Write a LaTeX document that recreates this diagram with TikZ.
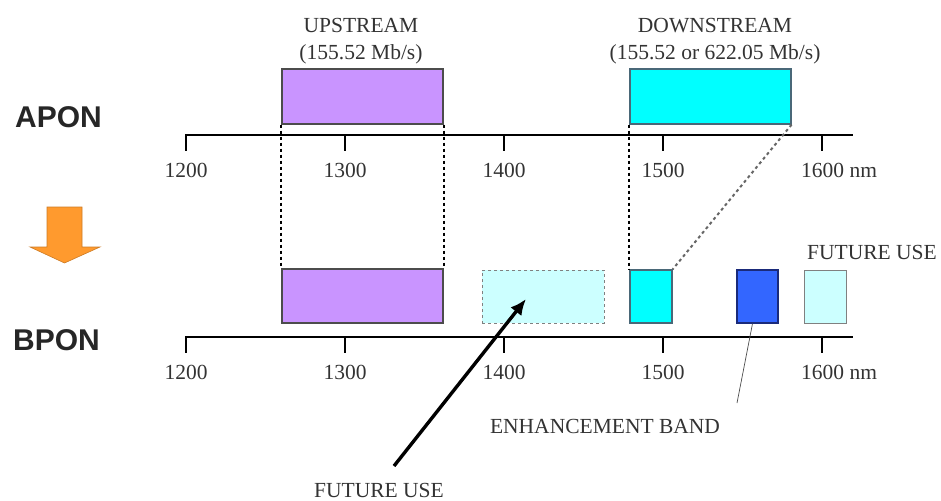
\documentclass[tikz,border=0pt]{standalone}
\usepackage{fontspec}
\setmainfont{Liberation Serif}
\newfontfamily\labelfont{Liberation Sans}
\usetikzlibrary{arrows.meta,calc}
\definecolor{bandpurple}{HTML}{C994FF}
\definecolor{bandcyan}{HTML}{00FFFF}
\definecolor{bandlight}{HTML}{CCFFFF}
\definecolor{bandblue}{HTML}{3366FF}
\definecolor{bandnavy}{HTML}{1A2A7A}
\definecolor{arroworange}{HTML}{FF9A2E}
\definecolor{txtgray}{HTML}{333333}
\begin{document}
\begin{tikzpicture}[x=1pt,y=-1pt,
  txt/.style={font=\fontsize{21.5}{24}\selectfont, text=txtgray, inner sep=0pt},
  big/.style={font=\labelfont\bfseries\fontsize{30}{32}\selectfont, text=black!85, inner sep=0pt},
  axisline/.style={line width=2.6pt, line cap=rect},
  band/.style={draw=black!70, line width=1.2pt, inner sep=0pt},
  guide/.style={line width=2pt, dash pattern=on 3pt off 3pt},
]
\useasboundingbox (0,0) rectangle (941,500);

% titles
\node[txt, anchor=base] (upt) at (361,33) {UPSTREAM};
\node[txt, anchor=base] (upr) at (361,60) {(155.52 Mb/s)};
\node[txt, anchor=base] (dnt) at (715,33) {DOWNSTREAM};
\node[txt, anchor=base] (dnr) at (715,60) {(155.52 or 622.05 Mb/s)};

% side labels
\node[big, anchor=base west] (apon) at (15,127) {APON};
\node[big, anchor=base west] (bpon) at (13,350) {BPON};

% orange arrow
\fill[arroworange, draw=arroworange!80!black, line width=0.6pt]
  (47,207) -- (82,207) -- (82,247) -- (100,247) -- (64.5,263) -- (30,247) -- (47,247) -- cycle;

% APON axis
\draw[axisline] (186,150) -- (186,135) -- (852,135);
\foreach \x in {345,504,663,822} \draw[axisline] (\x,135) -- (\x,150);
\node[txt, anchor=base] (a1200) at (186,177) {1200};
\node[txt, anchor=base] (a1300) at (345,177) {1300};
\node[txt, anchor=base] (a1400) at (504,177) {1400};
\node[txt, anchor=base] (a1500) at (663,177) {1500};
\node[txt, anchor=base west] (a1600) at (801,177) {1600 nm};

% BPON axis
\draw[axisline] (186,352) -- (186,337) -- (852,337);
\foreach \x in {345,504,663,822} \draw[axisline] (\x,337) -- (\x,352);
\node[txt, anchor=base] (b1200) at (186,379) {1200};
\node[txt, anchor=base] (b1300) at (345,379) {1300};
\node[txt, anchor=base] (b1400) at (504,379) {1400};
\node[txt, anchor=base] (b1500) at (663,379) {1500};
\node[txt, anchor=base west] (b1600) at (801,379) {1600 nm};

% APON bands
\node[band, fill=bandpurple, minimum width=161pt, minimum height=55pt] (up1) at (362.5,96.5) {};
\node[band, fill=bandcyan, draw=black!60!cyan, minimum width=161pt, minimum height=55pt] (dn1) at (710.5,96.5) {};

% BPON bands
\node[band, fill=bandpurple, minimum width=161pt, minimum height=54pt] (up2) at (362.5,296) {};
\node[band, fill=bandlight, draw=gray, line width=0.9pt, dashed, minimum width=122pt, minimum height=53pt] (fut1) at (543,296.5) {};
\node[band, fill=bandcyan, draw=black!60!cyan, minimum width=42pt, minimum height=53pt] (dn2) at (651,296.5) {};
\node[band, fill=bandblue, draw=bandnavy, minimum width=41pt, minimum height=53pt] (enh) at (757.5,296.5) {};
\node[band, fill=bandlight, draw=gray, line width=0.9pt, minimum width=42pt, minimum height=53pt] (fut2) at (825,296.5) {};

% guides
\draw[guide] (up1.south west) -- (up2.north west);
\draw[guide] (up1.south east) -- (up2.north east);
\draw[guide] (dn1.south west) -- (dn2.north west);
\draw[guide, draw=black!60] (dn1.south east) -- (dn2.north east);

% labels below
\node[txt, anchor=base west] (futr) at (807,259) {FUTURE USE};
\node[txt, anchor=base] (enhl) at (605,433) {ENHANCEMENT BAND};
\node[txt, anchor=base] (futb) at (379,497) {FUTURE USE};

\coordinate (enhend) at (737,403);
\draw[line width=0.7pt, draw=black!70] ($(enh.south)+(-5,0)$) -- (enhend);

\coordinate (futstart) at (394,466);
\coordinate (futtip) at (526,299);
\draw[line width=3.4pt, -{Latex[length=16pt,width=14pt]}] (futstart) -- (futtip);
\end{tikzpicture}
\end{document}
